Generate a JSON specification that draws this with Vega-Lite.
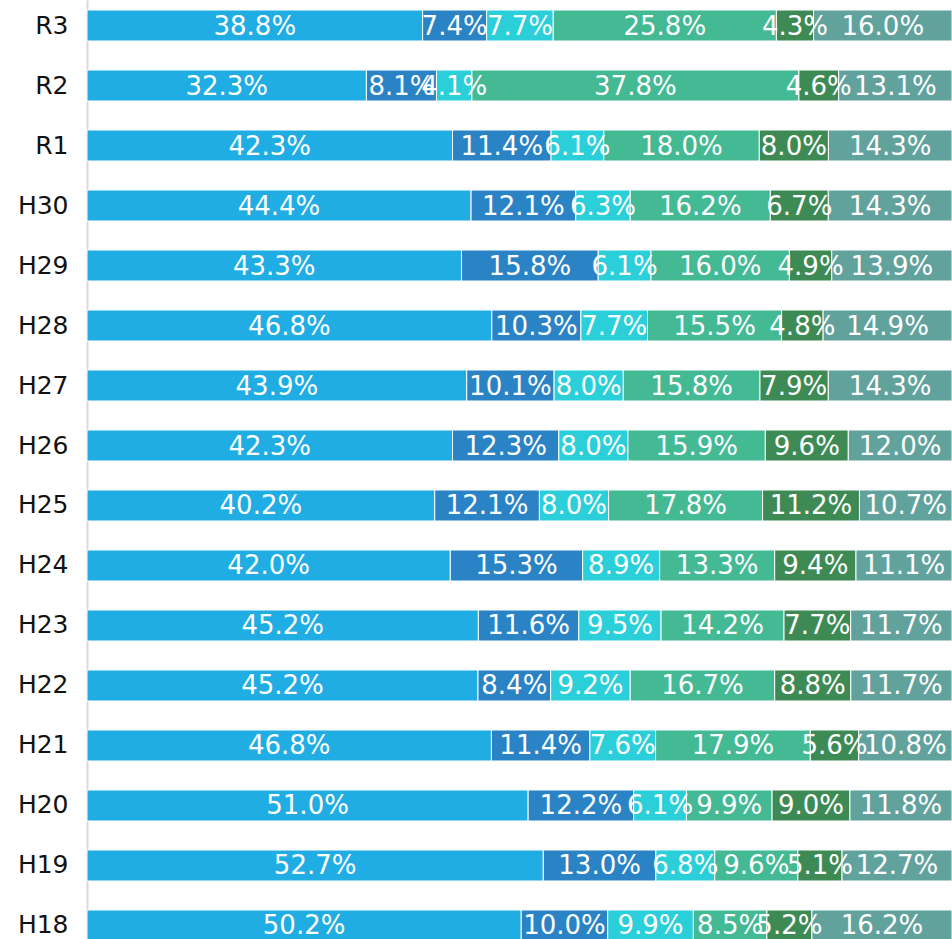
{
  "$schema": "https://vega.github.io/schema/vega-lite/v6.json",
  "width": 865,
  "height": 951,
  "autosize": {"type": "none"},
  "padding": {"left": 87, "top": 0, "right": 0, "bottom": 0},
  "background": "white",
  "config": {"view": {"stroke": null}},
  "data": {"values": [
    {"y":"R3","c":"s1","v":0.388},{"y":"R3","c":"s2","v":0.074},{"y":"R3","c":"s3","v":0.077},{"y":"R3","c":"s4","v":0.258},{"y":"R3","c":"s5","v":0.043},{"y":"R3","c":"s6","v":0.160},
    {"y":"R2","c":"s1","v":0.323},{"y":"R2","c":"s2","v":0.081},{"y":"R2","c":"s3","v":0.041},{"y":"R2","c":"s4","v":0.378},{"y":"R2","c":"s5","v":0.046},{"y":"R2","c":"s6","v":0.131},
    {"y":"R1","c":"s1","v":0.423},{"y":"R1","c":"s2","v":0.114},{"y":"R1","c":"s3","v":0.061},{"y":"R1","c":"s4","v":0.180},{"y":"R1","c":"s5","v":0.080},{"y":"R1","c":"s6","v":0.143},
    {"y":"H30","c":"s1","v":0.444},{"y":"H30","c":"s2","v":0.121},{"y":"H30","c":"s3","v":0.063},{"y":"H30","c":"s4","v":0.162},{"y":"H30","c":"s5","v":0.067},{"y":"H30","c":"s6","v":0.143},
    {"y":"H29","c":"s1","v":0.433},{"y":"H29","c":"s2","v":0.158},{"y":"H29","c":"s3","v":0.061},{"y":"H29","c":"s4","v":0.160},{"y":"H29","c":"s5","v":0.049},{"y":"H29","c":"s6","v":0.139},
    {"y":"H28","c":"s1","v":0.468},{"y":"H28","c":"s2","v":0.103},{"y":"H28","c":"s3","v":0.077},{"y":"H28","c":"s4","v":0.155},{"y":"H28","c":"s5","v":0.048},{"y":"H28","c":"s6","v":0.149},
    {"y":"H27","c":"s1","v":0.439},{"y":"H27","c":"s2","v":0.101},{"y":"H27","c":"s3","v":0.080},{"y":"H27","c":"s4","v":0.158},{"y":"H27","c":"s5","v":0.079},{"y":"H27","c":"s6","v":0.143},
    {"y":"H26","c":"s1","v":0.423},{"y":"H26","c":"s2","v":0.123},{"y":"H26","c":"s3","v":0.080},{"y":"H26","c":"s4","v":0.159},{"y":"H26","c":"s5","v":0.096},{"y":"H26","c":"s6","v":0.120},
    {"y":"H25","c":"s1","v":0.402},{"y":"H25","c":"s2","v":0.121},{"y":"H25","c":"s3","v":0.080},{"y":"H25","c":"s4","v":0.178},{"y":"H25","c":"s5","v":0.112},{"y":"H25","c":"s6","v":0.107},
    {"y":"H24","c":"s1","v":0.420},{"y":"H24","c":"s2","v":0.153},{"y":"H24","c":"s3","v":0.089},{"y":"H24","c":"s4","v":0.133},{"y":"H24","c":"s5","v":0.094},{"y":"H24","c":"s6","v":0.111},
    {"y":"H23","c":"s1","v":0.452},{"y":"H23","c":"s2","v":0.116},{"y":"H23","c":"s3","v":0.095},{"y":"H23","c":"s4","v":0.142},{"y":"H23","c":"s5","v":0.077},{"y":"H23","c":"s6","v":0.117},
    {"y":"H22","c":"s1","v":0.452},{"y":"H22","c":"s2","v":0.084},{"y":"H22","c":"s3","v":0.092},{"y":"H22","c":"s4","v":0.167},{"y":"H22","c":"s5","v":0.088},{"y":"H22","c":"s6","v":0.117},
    {"y":"H21","c":"s1","v":0.468},{"y":"H21","c":"s2","v":0.114},{"y":"H21","c":"s3","v":0.076},{"y":"H21","c":"s4","v":0.179},{"y":"H21","c":"s5","v":0.056},{"y":"H21","c":"s6","v":0.108},
    {"y":"H20","c":"s1","v":0.510},{"y":"H20","c":"s2","v":0.122},{"y":"H20","c":"s3","v":0.061},{"y":"H20","c":"s4","v":0.099},{"y":"H20","c":"s5","v":0.090},{"y":"H20","c":"s6","v":0.118},
    {"y":"H19","c":"s1","v":0.527},{"y":"H19","c":"s2","v":0.130},{"y":"H19","c":"s3","v":0.068},{"y":"H19","c":"s4","v":0.096},{"y":"H19","c":"s5","v":0.051},{"y":"H19","c":"s6","v":0.127},
    {"y":"H18","c":"s1","v":0.502},{"y":"H18","c":"s2","v":0.100},{"y":"H18","c":"s3","v":0.099},{"y":"H18","c":"s4","v":0.085},{"y":"H18","c":"s5","v":0.052},{"y":"H18","c":"s6","v":0.162}
  ]},
  "encoding": {
    "y": {
      "field": "y", "type": "nominal", "sort": null, "title": null,
      "scale": {"paddingInner": 0.4833, "paddingOuter": 0.1667},
      "axis": {
        "ticks": false, "domain": true, "domainColor": "#d9d9d9", "domainWidth": 2,
        "labelFont": "DejaVu Sans", "labelFontSize": 25, "labelColor": "#111111",
        "labelPadding": 19, "labelAlign": "right", "grid": false
      }
    }
  },
  "layer": [
    {
      "mark": {"type": "bar", "stroke": "white", "strokeWidth": 1},
      "encoding": {
        "x": {"field": "v", "type": "quantitative", "stack": "normalize", "axis": null, "scale": {"domain": [0, 1], "nice": false}},
        "color": {
          "field": "c", "type": "nominal", "legend": null,
          "scale": {"domain": ["s1","s2","s3","s4","s5","s6"], "range": ["#1fade4","#2a83c5","#2acfd9","#43b994","#3e8a55","#62a29d"]}
        },
        "order": {"field": "c", "type": "nominal", "sort": "ascending"}
      }
    },
    {
      "mark": {"type": "text", "font": "DejaVu Sans", "fontSize": 26, "color": "white", "align": "center", "baseline": "middle", "dy": 1},
      "encoding": {
        "x": {"field": "v", "type": "quantitative", "stack": "normalize", "bandPosition": 0.5},
        "detail": {"field": "c", "type": "nominal"},
        "order": {"field": "c", "type": "nominal", "sort": "ascending"},
        "text": {"field": "v", "type": "quantitative", "format": ".1%"}
      }
    }
  ]
}
